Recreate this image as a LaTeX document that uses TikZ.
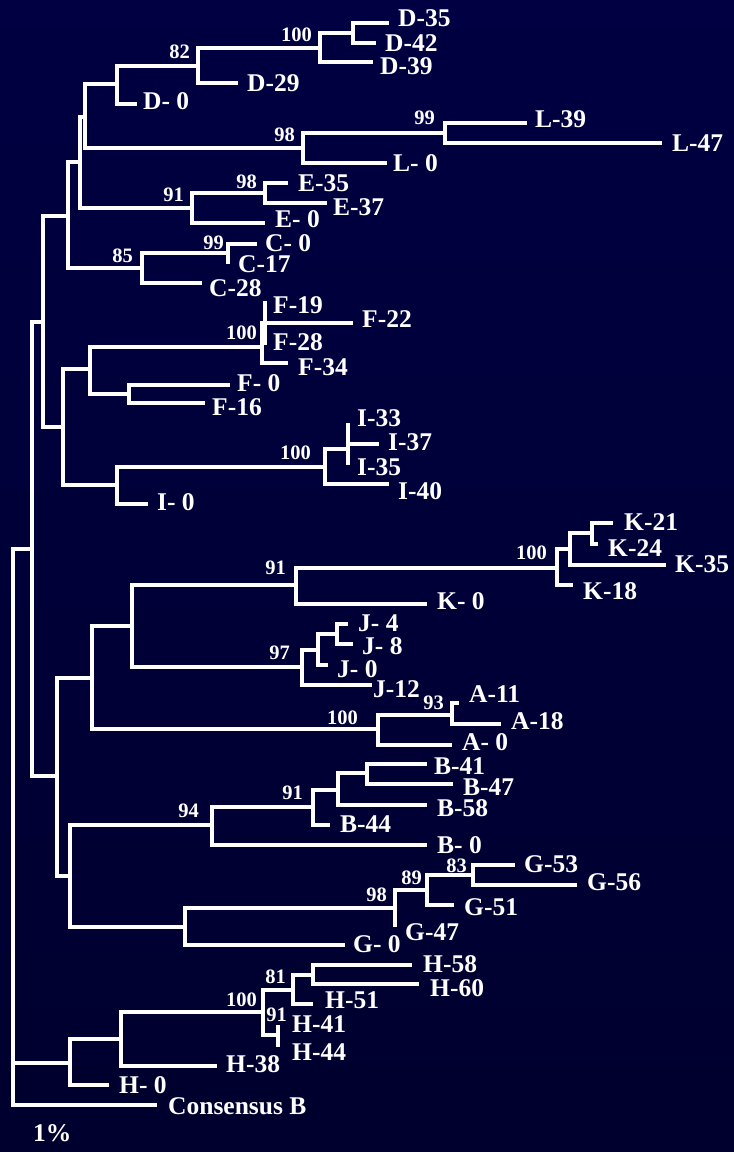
\documentclass[tikz,border=0pt]{standalone}
\usepackage{fontspec}
\setmainfont{Liberation Serif}
\definecolor{bgtop}{RGB}{0,0,66}
\definecolor{bgmid}{RGB}{0,0,106}
\definecolor{bgbot}{RGB}{0,0,46}
\begin{document}
\begin{tikzpicture}[x=1pt,y=-1pt,
  hl/.style={draw=white,line width=3.6pt},
  vl/.style={draw=white,line width=3.6pt,line cap=rect},
  lab/.style={anchor=west,inner sep=0pt,text=white,font=\fontsize{25.5}{26}\selectfont\bfseries},
  bs/.style={anchor=east,inner sep=0pt,text=white,font=\fontsize{20.5}{21}\selectfont\bfseries}]
\shade[top color=bgtop, middle color=bgmid, bottom color=bgbot] (0,0) rectangle (734,1152);
\useasboundingbox (0,0) rectangle (734,1152);
% vertical (node) lines: x / y1 / y2
\foreach \x/\a/\b in {13/549/1105, 32/322/776, 43/216/427, 68/162/268, 80/117/208,
  85/84/148, 117/66/104, 198/48/83, 320/33/62, 353/23/43, 303/133/163, 445/123/143,
  192/193/223, 265/183/203, 142/253/283, 228/244/262, 63/369/485, 90/347/394,
  262/323/363, 265/303/343, 129/385/403, 117/467/504, 325/449/484, 348/425/463,
  57/678/876, 92/626/729, 132/585/667, 296/568/604, 557/549/585, 570/533/565,
  592/523/544, 302/650/685, 318/634/665, 337/624/644, 378/715/745, 452/703/724,
  70/825/927, 212/807/845, 313/790/825, 338/773/805, 367/764/784, 185/908/945,
  395/890/925, 427/875/905, 473/865/885, 70/1039/1085, 121/1012/1066,
  263/990/1035, 293/975/1004, 313/965/984, 278/1027/1045}
  \draw[vl] (\x,\a) -- (\x,\b);
% horizontal branches: y / x1 / x2
\foreach \y/\a/\b in {549/13/32, 322/32/43, 216/43/68, 162/68/80, 117/80/85,
  84/85/117, 104/117/137, 66/117/198, 83/198/238, 48/198/320, 62/320/373,
  33/320/353, 23/353/389, 43/353/376, 148/85/303, 133/303/445, 123/445/527,
  143/445/662, 163/303/387, 208/80/192, 193/192/265, 183/265/288, 203/265/327,
  223/192/265, 268/68/142, 253/142/228, 244/228/257, 283/142/202, 427/43/63,
  369/63/90, 347/90/262, 323/265/353, 363/262/288, 394/90/129, 385/129/230,
  403/129/205, 485/63/117, 467/117/325, 449/325/348, 444/348/379, 484/325/389,
  504/117/148, 776/32/57, 678/57/92, 626/92/132, 585/132/296, 568/296/557,
  549/557/570, 533/570/592, 523/592/613, 544/592/598, 565/570/666, 585/557/573,
  604/296/427, 667/132/302, 650/302/318, 634/318/337, 624/337/348, 644/337/353,
  665/318/328, 685/302/372, 729/92/378, 715/378/452, 703/452/459, 724/452/501,
  745/378/452, 876/57/70, 825/70/212, 807/212/313, 790/313/338, 773/338/367,
  764/367/427, 784/367/453, 805/338/427, 825/313/330, 845/212/427, 927/70/185,
  908/185/395, 890/395/427, 875/427/473, 865/473/515, 885/473/577, 905/427/454,
  945/185/345, 1063/13/70, 1039/70/121, 1012/121/263, 990/263/293, 975/293/313,
  965/313/412, 984/313/419, 1004/293/313, 1035/263/278, 1066/121/217,
  1085/70/109, 1105/13/157}
  \draw[hl] (\a,\y) -- (\b,\y);
% taxon labels
\foreach \x/\y/\t [count=\i] in {398/18/D-35, 385/43/D-42, 380/66/D-39, 247/83/D-29,
  143/101/D- 0, 535/119/L-39, 672/143/L-47, 393/163/L- 0, 298/183/E-35,
  333/207/E-37, 275/219/E- 0, 265/243/C- 0, 238/264/C-17, 209/288/C-28,
  273/305/F-19, 362/319/F-22, 273/342/F-28, 298/367/F-34, 237/383/F- 0,
  212/407/F-16, 357/418/I-33, 388/442/I-37, 357/467/I-35, 398/491/I-40,
  157/502/I- 0, 624/522/K-21, 608/548/K-24, 675/564/K-35, 583/591/K-18,
  437/601/K- 0, 358/623/J- 4, 362/646/J- 8, 337/669/J- 0, 373/689/J-12,
  469/694/A-11, 511/721/A-18, 462/742/A- 0, 434/766/B-41, 463/787/B-47,
  437/808/B-58, 340/824/B-44, 437/845/B- 0, 524/864/G-53, 587/882/G-56,
  464/907/G-51, 405/932/G-47, 353/944/G- 0, 423/964/H-58, 430/988/H-60,
  325/1000/H-51, 292/1024/H-41, 292/1052/H-44, 226/1064/H-38, 119/1085/H- 0,
  168/1106/Consensus B, 33/1133/1\%}
  \node[lab] (t\i) at (\x,\y) {\t};
% bootstrap values (right edge / centre)
\foreach \x/\y/\t [count=\i] in {190/52/82, 312/35/100, 295/135/98, 435/118/99,
  257/182/98, 184/195/91, 224/243/99, 133/256/85, 257/333/100, 311/453/100,
  286/568/91, 547/553/100, 290/653/97, 358/718/100, 444/703/93, 303/793/91,
  199/811/94, 387/895/98, 422/878/89, 467/866/83, 286/977/81, 257/1000/100,
  287/1015/91}
  \node[bs] (b\i) at (\x,\y) {\t};
\end{tikzpicture}
\end{document}
